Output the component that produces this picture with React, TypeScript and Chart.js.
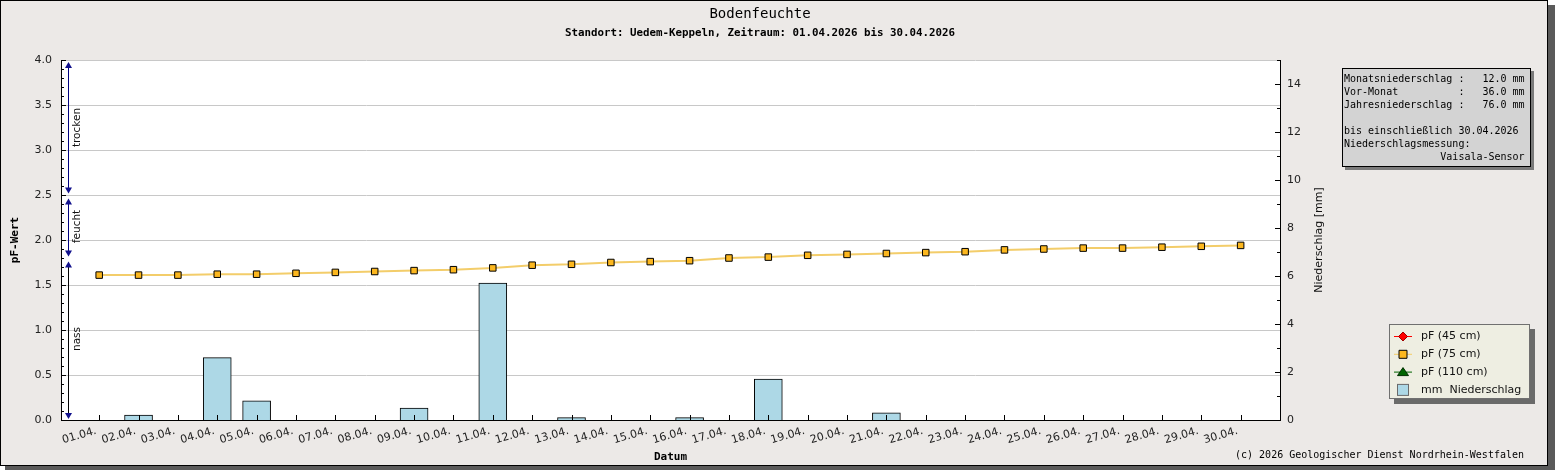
import { useEffect, useRef } from 'react';
import { Chart, registerables } from 'chart.js';

Chart.register(...registerables);

// ---------- data ----------
const days = [
  '01.04.', '02.04.', '03.04.', '04.04.', '05.04.', '06.04.', '07.04.', '08.04.', '09.04.', '10.04.',
  '11.04.', '12.04.', '13.04.', '14.04.', '15.04.', '16.04.', '17.04.', '18.04.', '19.04.', '20.04.',
  '21.04.', '22.04.', '23.04.', '24.04.', '25.04.', '26.04.', '27.04.', '28.04.', '29.04.', '30.04.',
];
const pf45: number[] = [];
const pf75 = [
  1.61, 1.61, 1.61, 1.62, 1.62, 1.63, 1.64, 1.65, 1.66, 1.67,
  1.69, 1.72, 1.73, 1.75, 1.76, 1.77, 1.80, 1.81, 1.83, 1.84,
  1.85, 1.86, 1.87, 1.89, 1.90, 1.91, 1.91, 1.92, 1.93, 1.94,
];
const pf110: number[] = [];
const rain = [
  0, 0.2, 0, 2.6, 0.8, 0, 0, 0, 0.5, 0,
  5.7, 0, 0.1, 0, 0, 0.1, 0, 1.7, 0, 0,
  0.3, 0, 0, 0, 0, 0, 0, 0, 0, 0,
];
const zoneBounds = [0, 1.8, 2.5, 4.0];
const zoneNames = ['nass', 'feucht', 'trocken'];
const infoLines = [
  'Monatsniederschlag :   12.0 mm',
  'Vor-Monat          :   36.0 mm',
  'Jahresniederschlag :   76.0 mm',
  '',
  'bis einschließlich 30.04.2026',
  'Niederschlagsmessung:',
  '                Vaisala-Sensor',
];
const titleText = 'Bodenfeuchte';
const subtitleText = 'Standort: Uedem-Keppeln, Zeitraum: 01.04.2026 bis 30.04.2026';
const copyrightText = '(c) 2026 Geologischer Dienst Nordrhein-Westfalen';

const MONO = '"DejaVu Sans Mono", "Liberation Mono", monospace';
const SANS = '"DejaVu Sans", Verdana, sans-serif';

const decorPlugin = {
  id: 'decor',
  beforeDraw(chart: any) {
    const { ctx, chartArea: a } = chart;
    ctx.save();
    ctx.fillStyle = '#5a5a5a';
    ctx.fillRect(5, 5, 1550, 465);
    ctx.fillStyle = '#ECE9E7';
    ctx.fillRect(0, 0, 1548, 466);
    ctx.strokeStyle = '#000';
    ctx.lineWidth = 1;
    ctx.strokeRect(0.5, 0.5, 1547, 465);
    ctx.fillStyle = '#ffffff';
    ctx.fillRect(a.left, a.top, a.right - a.left, a.bottom - a.top);
    ctx.restore();
  },
  afterDatasetsDraw(chart: any) {
    const { ctx, chartArea: a } = chart;
    const { x, y, y1 } = chart.scales;
    ctx.save();
    ctx.strokeStyle = '#000';
    ctx.lineWidth = 1;
    ctx.beginPath();
    for (let k = 0; k <= 40; k++) {
      const py = Math.round(y.getPixelForValue(k / 10)) + 0.5;
      const len = k % 5 === 0 ? 5 : 3;
      ctx.moveTo(a.left, py);
      ctx.lineTo(a.left + len, py);
    }
    for (let k = 0; k <= 15; k++) {
      const py = Math.round(y1.getPixelForValue(k)) + 0.5;
      const len = k % 2 === 0 ? 5 : 3;
      ctx.moveTo(a.right - len, py);
      ctx.lineTo(a.right, py);
    }
    for (let i = 0; i < days.length; i++) {
      const px = Math.round(x.getPixelForValue(i)) + 0.5;
      ctx.moveTo(px, a.bottom);
      ctx.lineTo(px, a.bottom - 5);
    }
    ctx.stroke();

    // zone arrows
    const ax = 68.5;
    const n = zoneNames.length;
    for (let i = 0; i < n; i++) {
      const yHi = y.getPixelForValue(zoneBounds[i + 1]);
      const yLo = y.getPixelForValue(zoneBounds[i]);
      const tipTop = yHi + (i === n - 1 ? 2 : 3.5);
      const tipBot = yLo - (i === 0 ? 1 : 1.5);
      ctx.strokeStyle = i === 0 ? '#000000' : '#000080';
      ctx.beginPath();
      ctx.moveTo(ax, tipTop + 2);
      ctx.lineTo(ax, tipBot - 2);
      ctx.stroke();
      ctx.fillStyle = '#10108c';
      ctx.beginPath();
      ctx.moveTo(ax, tipTop);
      ctx.lineTo(ax - 3.5, tipTop + 6);
      ctx.lineTo(ax + 3.5, tipTop + 6);
      ctx.closePath();
      ctx.fill();
      ctx.beginPath();
      ctx.moveTo(ax, tipBot);
      ctx.lineTo(ax - 3.5, tipBot - 6);
      ctx.lineTo(ax + 3.5, tipBot - 6);
      ctx.closePath();
      ctx.fill();
      ctx.save();
      ctx.translate(77, (yHi + yLo) / 2);
      ctx.rotate(-Math.PI / 2);
      ctx.font = `10.5px ${SANS}`;
      ctx.fillStyle = '#111';
      ctx.textAlign = 'center';
      ctx.textBaseline = 'middle';
      ctx.fillText(zoneNames[i], 0, 0);
      ctx.restore();
    }
    ctx.restore();
  },
  afterDraw(chart: any) {
    const { ctx, chartArea: a } = chart;
    ctx.save();
    ctx.fillStyle = '#000';
    ctx.textAlign = 'center';
    ctx.textBaseline = 'middle';
    ctx.font = `14px ${MONO}`;
    ctx.fillText(titleText, 760, 14.5);
    ctx.font = `bold 10.8px ${MONO}`;
    ctx.fillText(subtitleText, 760, 33.5);

    // axis titles
    ctx.font = `bold 11px ${MONO}`;
    ctx.fillText('Datum', (a.left + a.right) / 2, 457);
    ctx.save();
    ctx.translate(15, (a.top + a.bottom) / 2);
    ctx.rotate(-Math.PI / 2);
    ctx.fillText('pF-Wert', 0, 0);
    ctx.restore();
    ctx.save();
    ctx.translate(1319, (a.top + a.bottom) / 2);
    ctx.rotate(-Math.PI / 2);
    ctx.font = `11px ${SANS}`;
    ctx.fillStyle = '#111';
    ctx.fillText('Niederschlag [mm]', 0, 0);
    ctx.restore();

    // copyright
    ctx.font = `10px ${MONO}`;
    ctx.textAlign = 'right';
    ctx.fillStyle = '#000';
    ctx.fillText(copyrightText, 1524, 455);

    // info box
    ctx.fillStyle = '#7a7a7a';
    ctx.fillRect(1345, 71, 189, 99);
    ctx.fillStyle = '#D3D3D3';
    ctx.fillRect(1342, 68, 189, 99);
    ctx.strokeStyle = '#000';
    ctx.strokeRect(1342.5, 68.5, 188, 98);
    ctx.fillStyle = '#000';
    ctx.textAlign = 'left';
    ctx.font = `10px ${MONO}`;
    infoLines.forEach((line, i) => {
      ctx.fillText(line, 1344, 79.5 + i * 13);
    });

    // legend
    ctx.fillStyle = '#6a6a6a';
    ctx.fillRect(1394, 329, 141, 75);
    ctx.fillStyle = '#EEEEE2';
    ctx.fillRect(1389, 324, 141, 75);
    ctx.strokeStyle = '#707070';
    ctx.strokeRect(1389.5, 324.5, 140, 74);
    const dsList = chart.data.datasets;
    dsList.forEach((ds: any, i: number) => {
      const cy = 336.5 + i * 17.8;
      const mx = 1403;
      if (ds.type === 'bar') {
        ctx.fillStyle = ds.backgroundColor;
        ctx.fillRect(1397.5, cy - 5.5, 11, 11);
        ctx.strokeStyle = '#6a6a6a';
        ctx.strokeRect(1397.5, cy - 5.5, 11, 11);
      } else {
        ctx.strokeStyle = ds.borderColor;
        ctx.lineWidth = 1;
        ctx.beginPath();
        ctx.moveTo(1394, cy);
        ctx.lineTo(1412, cy);
        ctx.stroke();
        ctx.fillStyle = ds.pointBackgroundColor;
        ctx.strokeStyle = ds.pointBorderColor;
        ctx.beginPath();
        if (ds.pointStyle === 'rectRot') {
          ctx.moveTo(mx, cy - 4.5);
          ctx.lineTo(mx + 4.5, cy);
          ctx.lineTo(mx, cy + 4.5);
          ctx.lineTo(mx - 4.5, cy);
          ctx.closePath();
        } else if (ds.pointStyle === 'triangle') {
          ctx.moveTo(mx, cy - 4.5);
          ctx.lineTo(mx + 5.5, cy + 3.5);
          ctx.lineTo(mx - 5.5, cy + 3.5);
          ctx.closePath();
        } else {
          ctx.rect(mx - 4, cy - 4, 8, 8);
        }
        ctx.fill();
        ctx.stroke();
      }
      ctx.fillStyle = '#111';
      ctx.font = `11px ${SANS}`;
      ctx.textAlign = 'left';
      ctx.fillText(ds.label, 1421, cy);
    });
    ctx.restore();
  },
};

export default function App() {
  const ref = useRef<HTMLCanvasElement>(null);
  useEffect(() => {
    document.body.style.margin = '0';
    const canvas = ref.current;
    if (!canvas) return;
    const chart = new Chart(canvas, {
      type: 'bar',
      data: {
        datasets: [
          {
            type: 'line',
            label: 'pF (45 cm)',
            data: pf45.map((v, i) => ({ x: i, y: v })),
            yAxisID: 'y',
            borderColor: '#FF0000',
            borderWidth: 1,
            pointStyle: 'rectRot',
            pointBackgroundColor: '#FF0000',
            pointBorderColor: '#A00000',
            order: 0,
          },
          {
            type: 'line',
            label: 'pF (75 cm)',
            data: pf75.map((v, i) => ({ x: i, y: v })),
            yAxisID: 'y',
            borderColor: '#F3CD6A',
            borderWidth: 2,
            tension: 0,
            pointStyle: 'rect',
            pointRadius: 4.6,
            pointBackgroundColor: '#FCB71E',
            pointBorderColor: '#000000',
            pointBorderWidth: 1,
            order: 0,
          },
          {
            type: 'line',
            label: 'pF (110 cm)',
            data: pf110.map((v, i) => ({ x: i, y: v })),
            yAxisID: 'y',
            borderColor: '#006400',
            borderWidth: 1,
            pointStyle: 'triangle',
            pointBackgroundColor: '#006400',
            pointBorderColor: '#003000',
            order: 0,
          },
          {
            type: 'bar',
            label: 'mm  Niederschlag',
            data: rain.map((v, i) => ({ x: i, y: v })),
            yAxisID: 'y1',
            backgroundColor: '#ADD8E6',
            borderColor: '#000000',
            borderWidth: 1,
            barThickness: 28,
            order: 1,
          },
        ] as any,
      },
      options: {
        animation: false,
        responsive: false,
        devicePixelRatio: 1,
        layout: { padding: { top: 60, left: 0, right: 0, bottom: 0 } },
        plugins: {
          legend: { display: false },
          tooltip: { enabled: false },
          title: { display: false },
        },
        scales: {
          x: {
            type: 'linear',
            position: 'bottom',
            offset: false,
            min: -0.97,
            max: 30,
            afterFit: (s: any) => { s.height = 50; },
            grid: { display: false, drawTicks: false, offset: false },
            border: { display: true, color: '#000', width: 1 },
            ticks: {
              stepSize: 1,
              includeBounds: false,
              autoSkip: false,
              minRotation: 16,
              maxRotation: 16,
              padding: 4.5,
              labelOffset: -3,
              color: '#222',
              font: { family: 'DejaVu Sans', size: 11 },
              callback: (v: any) => days[v as number] ?? '',
            },
          },
          y: {
            type: 'linear',
            position: 'left',
            min: 0,
            max: 4,
            afterFit: (s: any) => { s.width = 61; },
            grid: { display: true, drawTicks: false, color: '#c8c8c8', lineWidth: 1 },
            border: { display: true, color: '#000', width: 1 },
            ticks: {
              stepSize: 0.5,
              padding: 9,
              color: '#222',
              font: { family: 'DejaVu Sans', size: 11 },
              callback: (v: any) => Number(v).toFixed(1),
            },
          },
          y1: {
            type: 'linear',
            position: 'right',
            min: 0,
            max: 15,
            afterFit: (s: any) => { s.width = 275; },
            grid: { display: false, drawTicks: false },
            border: { display: true, color: '#000', width: 1 },
            ticks: {
              stepSize: 2,
              includeBounds: false,
              padding: 7,
              color: '#222',
              font: { family: 'DejaVu Sans', size: 11 },
              callback: (v: any) => String(v),
            },
          },
        },
      } as any,
      plugins: [decorPlugin],
    });
    return () => chart.destroy();
  }, []);
  return (
    <div style={{ position: 'absolute', left: 0, top: 0, width: 1555, height: 470 }}>
      <canvas ref={ref} width={1555} height={470} style={{ display: 'block', width: 1555, height: 470 }} />
    </div>
  );
}
